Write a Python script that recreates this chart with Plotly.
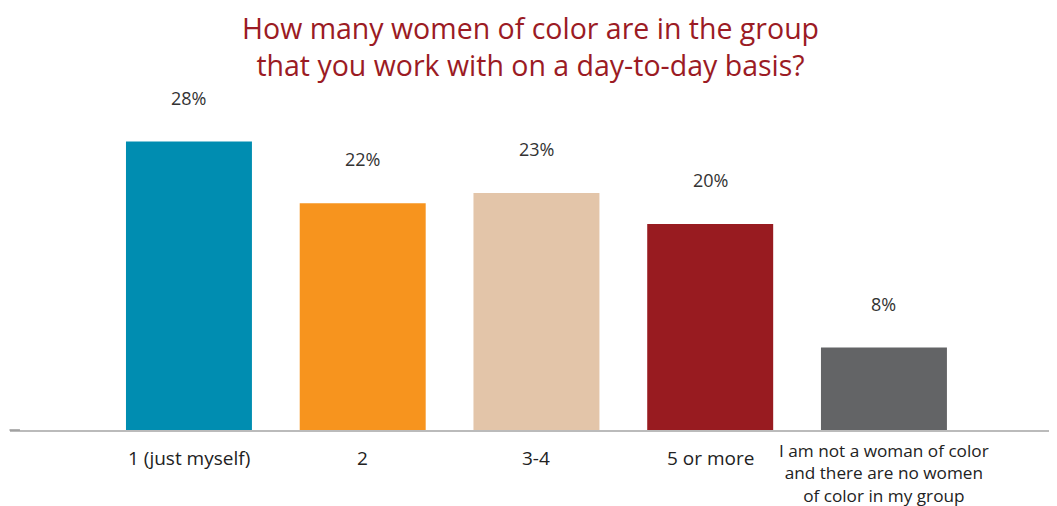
import plotly.graph_objects as go

categories = ["1 (just myself)", "2", "3-4", "5 or more",
              "I am not a woman of color<br>and there are no women<br>of color in my group"]
values = [28, 22, 23, 20, 8]
value_labels = ["28%", "22%", "23%", "20%", "8%"]
colors = ["#008db1", "#f7941e", "#e3c5a9", "#981b20", "#636466"]

title_text = "How many women of color are in the group<br>that you work with on a day-to-day basis?"

FONT = "Open Sans, sans-serif"

# page has an 8px body margin, so the figure is slightly smaller than the window
W, H = 1049, 498
ML, MR, MT, MB = 2, 0, 82, 76

fig = go.Figure()
fig.add_trace(go.Bar(
    x=list(range(len(categories))), y=values,
    marker=dict(color=colors, line=dict(width=0)),
    width=0.725, hoverinfo="skip",
))

for i, (v, t) in enumerate(zip(values, value_labels)):
    fig.add_annotation(x=i, y=v, text=t, showarrow=False, yanchor="bottom",
                       yshift=30, font=dict(family=FONT, size=18, color="#333333"))

# category labels under the axis
for i, c in enumerate(categories):
    nlines = c.count("<br>") + 1
    fig.add_annotation(x=i, y=0, yref="paper", text=c, showarrow=False,
                       yanchor="top", borderpad=0,
                       yshift=-14 if nlines == 1 else -8,
                       font=dict(family=FONT, size=19 if nlines == 1 else 17.2,
                                 color="#222222"))

# title
fig.add_annotation(x=0.4967, xref="paper", y=1, yref="paper", text=title_text,
                   showarrow=False, xanchor="center", yanchor="top", yshift=82,
                   borderpad=0,
                   font=dict(family=FONT, size=28.5, color="#9b1b24"))

# small darker segment at the left end of the axis line
fig.add_shape(type="line", xref="paper", yref="paper", x0=-0.0005, x1=0.0095,
              y0=0, y1=0, line=dict(color="#999999", width=1.5))

fig.update_layout(
    width=W, height=H,
    margin=dict(l=ML, r=MR, t=MT, b=MB),
    paper_bgcolor="white", plot_bgcolor="white",
    showlegend=False,
    xaxis=dict(range=[-1.03, 4.996], tickmode="array",
               tickvals=list(range(len(categories))),
               showticklabels=False,
               showgrid=False, zeroline=False, showline=True,
               linecolor="#bbbbbb", linewidth=1.5, ticks="",
               fixedrange=True),
    yaxis=dict(range=[0, 33], visible=False, fixedrange=True),
)

fig.write_html("out.html")
